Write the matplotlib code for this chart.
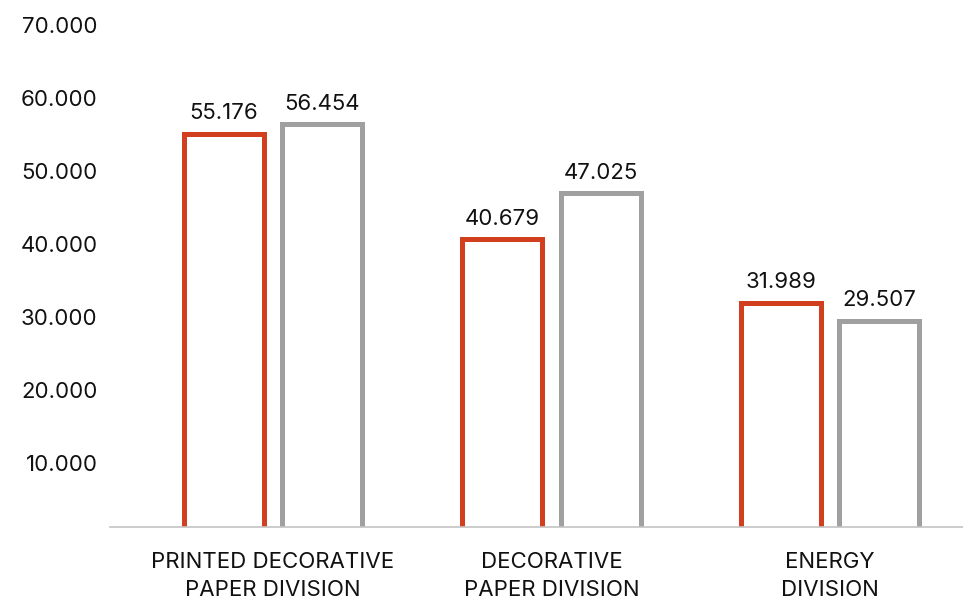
import numpy as np
import matplotlib.pyplot as plt

plt.rcParams['font.family'] = ['Inter', 'DejaVu Sans']

categories = ['PRINTED DECORATIVE\nPAPER DIVISION',
              'DECORATIVE\nPAPER DIVISION',
              'ENERGY\nDIVISION']
current = [55.176, 40.679, 31.989]
previous = [56.454, 47.025, 29.507]
yticks = [10, 20, 30, 40, 50, 60, 70]

red = '#d13f1f'
grey = '#a0a0a0'

fig = plt.figure(figsize=(9.63, 6.01), dpi=100)
ax = fig.add_axes([110 / 963, 74.3 / 601, 853 / 963, 516.7 / 601])

x = np.arange(len(categories))
off = 0.177
w = 0.287

for xs, vals, cc in [(x - off, current, red), (x + off, previous, grey)]:
    ax.bar(xs, vals, width=w, facecolor='none', edgecolor=cc, linewidth=3.6)
    for xi, v in zip(xs, vals):
        ax.annotate(f'{v:.3f}', (xi, v), xytext=(0, 10.4), textcoords='offset points',
                    ha='center', va='baseline', fontsize=16, color='#111111')

ax.set_xlim(-0.585, 2.478)
ax.set_ylim(1.315, 72.1)
ax.set_yticks(yticks)
ax.set_yticklabels([f'{t:.3f}' for t in yticks])
ax.set_xticks(x)
ax.set_xticklabels(categories, linespacing=1.5)
ax.tick_params(length=0, labelsize=16, colors='#111111')
ax.tick_params(axis='x', pad=18)
ax.tick_params(axis='y', pad=9)

for s in ['top', 'right', 'left']:
    ax.spines[s].set_visible(False)
ax.spines['bottom'].set_color('#c4c4c4')
ax.spines['bottom'].set_linewidth(1.2)

fig.savefig('out.png', dpi=100)
